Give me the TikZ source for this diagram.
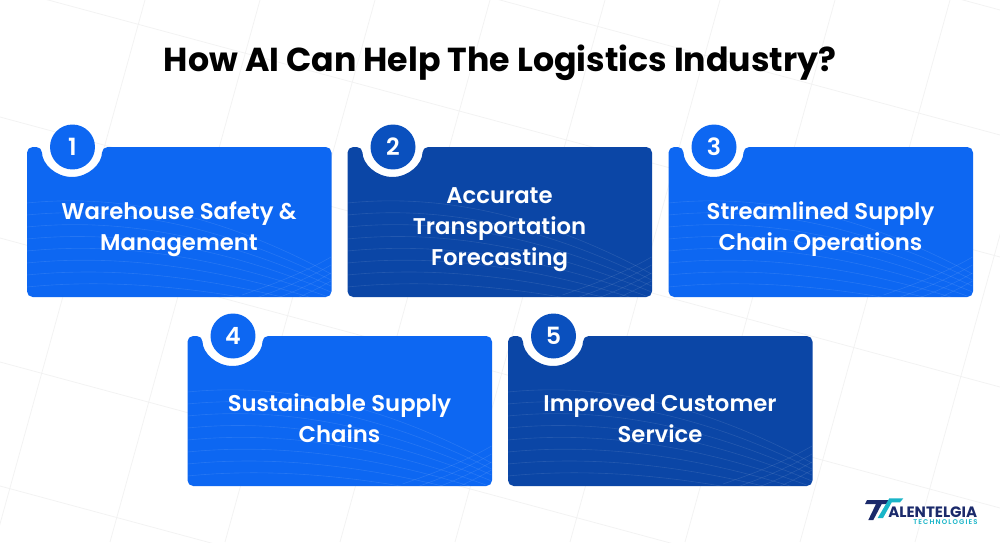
\documentclass[tikz,border=0pt]{standalone}
\usepackage{fontspec}
\setmainfont{Poppins}
\newfontfamily\cardfont{Poppins SemiBold}
\usepackage{tikz}

\definecolor{cardlight}{HTML}{0D67F2}
\definecolor{carddark}{HTML}{0B46A6}
\definecolor{dotdark}{HTML}{0A50BE}
\definecolor{logonavy}{HTML}{1B2A6B}
\definecolor{logoteal}{HTML}{19B5C8}

\tikzset{
	gridline/.style={black!5,line width=0.4pt},
	cardlabel/.style={text=white,align=center,font=\cardfont\fontsize{12.95}{17.6}\selectfont},
	numdot/.style={circle,minimum size=0.9cm,inner sep=0pt,text=white,font=\cardfont\fontsize{13.5}{16}\selectfont},
	waveline/.style={white,opacity=0.1,line width=0.35pt}
}

% x,y = linke untere Ecke der Karte
\newcommand{\stepcard}[6]{
	\begin{scope}[shift={(#1,#2)}]
		\path[fill=#3,rounded corners=3.2pt] (0,0) -- (0,150) -- (15,150)
			arc[start angle=180,end angle=360,radius=30] -- (304.5,150) -- (304.5,0) -- cycle;
		\begin{scope}
			\clip[rounded corners=3.2pt] (0,0) rectangle (304.5,150);
			\foreach \h in {10,22,...,94}
				\draw[waveline] (0,\h) .. controls (90,\h+9) and (190,0.9*\h) .. (304,0.5*\h-24);
			\foreach \h in {-22,-14,-6,2}
				\draw[waveline] (215,\h) .. controls (250,\h+12) and (280,\h+24) .. (304,\h+38);
		\end{scope}
		\node[numdot,fill=#4] (num#5) at (45.5,150) {#5};
		\node[cardlabel] (label#5) at (152,67.5) {#6};
	\end{scope}
}

\begin{document}
\begin{tikzpicture}[x=0.02cm,y=0.02cm]
	\useasboundingbox (0,0) rectangle (1000,542);
	\clip (0,0) rectangle (1000,542);
	\fill[white] (0,0) rectangle (1000,542);

	%Hintergrundraster
	\foreach \a in {145,260,...,1300}
		\draw[gridline] (\a,542) -- (\a-150,0);
	\foreach \b in {-260,-135,-13,117,238,362,486}
		\draw[gridline] (0,542-\b) -- (1000,542-\b-270);

	\node[font=\bfseries\fontsize{18.9}{22}\selectfont] (title) at (500,479.5) {How AI Can Help The Logistics Industry?};

	\stepcard{27}{245}{cardlight}{cardlight}{1}{Warehouse Safety \&\\Management}
	\stepcard{347.5}{245}{carddark}{dotdark}{2}{Accurate\\Transportation\\Forecasting}
	\stepcard{668.5}{245}{cardlight}{cardlight}{3}{Streamlined Supply\\Chain Operations}
	\stepcard{187.5}{56}{cardlight}{cardlight}{4}{Sustainable Supply\\Chains}
	\stepcard{508}{56}{carddark}{dotdark}{5}{Improved Customer\\Service}

	%Logo
	\fill[logonavy] (867,42) -- (890,42) -- (887.3,38) -- (881.7,38) -- (873.3,22) -- (868.3,22) -- (876,38) -- (865,38) -- cycle;
	\fill[logoteal] (889.3,43.7) -- (903.3,43.7) -- (900,39.7) -- (891.7,39.7) -- (883,24) -- (877.7,24) -- cycle;
	\node[anchor=west,inner sep=0pt,text=logonavy,font=\bfseries\fontsize{8.55}{9}\selectfont] (logoname) at (888,30) {ALENTELGIA};
	\node[anchor=west,inner sep=0pt,text=logoteal,font=\cardfont\fontsize{3.9}{4}\selectfont] (logosub) at (913,20) {T\,E\,C\,H\,N\,O\,L\,O\,G\,I\,E\,S};
\end{tikzpicture}
\end{document}
